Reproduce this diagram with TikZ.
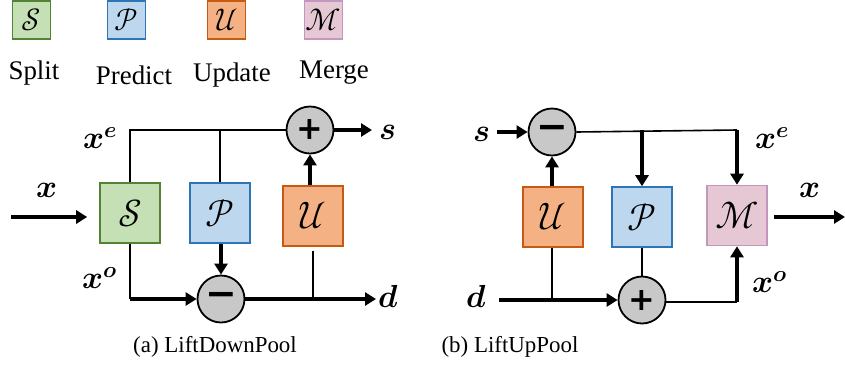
\documentclass[tikz,border=0pt]{standalone}
\usepackage{fontspec}
\usepackage{unicode-math}
\setmathfont{Latin Modern Math}
\setmainfont{Liberation Serif}
\newfontfamily\symfont{DejaVu Sans}
\usetikzlibrary{arrows.meta}
\definecolor{gfill}{HTML}{C5E0B4}\definecolor{gdraw}{HTML}{548235}
\definecolor{bfill}{HTML}{BDD7EE}\definecolor{bdraw}{HTML}{2E75B6}
\definecolor{ofill}{HTML}{F4B183}\definecolor{odraw}{HTML}{C55A11}
\definecolor{mfill}{HTML}{E6C8D4}\definecolor{mdraw}{HTML}{C296BE}
\definecolor{cfill}{HTML}{C8C8C8}
\tikzset{
  blk/.style={draw, line width=1.6bp, minimum width=60bp, minimum height=60bp, inner sep=0pt,
    font=\fontsize{38}{38}\selectfont},
  leg/.style={draw, line width=1.6bp, minimum width=38bp, minimum height=38bp, inner sep=0pt,
    font=\fontsize{31}{31}\selectfont},
  sbox/.style={fill=gfill, draw=gdraw},
  pbox/.style={fill=bfill, draw=bdraw},
  ubox/.style={fill=ofill, draw=odraw},
  mbox/.style={fill=mfill, draw=mdraw},
  opc/.style={circle, draw, fill=cfill, line width=1.8bp, minimum size=47bp, inner sep=0pt},
  plusf/.style={font=\symfont\bfseries\fontsize{32}{32}\selectfont},
  minusf/.style={font=\symfont\bfseries\fontsize{38}{38}\selectfont},
  thinl/.style={line width=1.6bp},
  thickarr/.style={line width=4bp, -{Triangle[length=11bp,width=13bp]}},
  mlab/.style={font=\fontsize{32}{32}\selectfont, inner sep=0pt},
  txt/.style={font=\fontsize{23}{23}\selectfont, inner sep=0pt},
  legtxt/.style={font=\fontsize{27}{27}\selectfont, inner sep=0pt},
}
\begin{document}
\begin{tikzpicture}[x=1bp,y=-1bp]
\useasboundingbox (0,0) rectangle (845,385);
% legend
\node[leg,sbox] (lS) at (31.5,20) {$\mathcal{S}$};
\node[leg,pbox] (lP) at (126.5,20) {$\mathcal{P}$};
\node[leg,ubox] (lU) at (226.5,20) {$\mathcal{U}$};
\node[leg,mbox] (lM) at (323.5,20) {$\mathcal{M}$};
\node[legtxt] (tS) at (34,73) {Split};
\node[legtxt] (tP) at (134,75) {Predict};
\node[legtxt] (tU) at (232,75) {Update};
\node[legtxt] (tM) at (334,73) {Merge};
% ---------- left: LiftDownPool ----------
\node[blk,sbox] (S) at (130,213) {$\mathcal{S}$};
\node[blk,pbox] (P) at (220,213) {$\mathcal{P}$};
\node[blk,ubox] (U) at (313,216) {$\mathcal{U}$};
\node[opc,plusf] (add) at (310,130) {+};
\node[opc,minusf] (sub) at (221,299) {\char"2212};
\coordinate (xin) at (11,217);
\coordinate (sout) at (372,130);
\coordinate (dout) at (376,299);
\node[mlab] (xl) at (47,190) {$\symbfit{x}$};
\node[mlab] (xel) at (100,138) {$\symbfit{x}^{\symbfit{e}}$};
\node[mlab] (xol) at (100,278) {$\symbfit{x}^{\symbfit{o}}$};
\node[mlab] (sl) at (388,132) {$\symbfit{s}$};
\node[mlab] (dl) at (389,297) {$\symbfit{d}$};
\draw[thickarr, shorten >=12bp] (xin) -- (S.west |- xin);
\draw[thinl] (S.north) |- (add.west);
\draw[thinl] (P.north) -- (P.north |- add.west);
\draw[thickarr] (U.north -| add) -- (add.south);
\draw[thickarr] (add.east) -- (sout);
\draw[thinl] (S.south) -- (S.south |- sub.west);
\draw[thickarr] (S.south |- sub.west) -- (sub.west);
\draw[thickarr] (P.south -| sub) -- (sub.north);
\draw[thickarr] (sub.east) -- (dout);
\draw[thinl, shorten <=4bp] (U.south) -- (U.south |- sub.east);
% ---------- right: LiftUpPool ----------
\node[opc,minusf] (sub2) at (552,132) {\char"2212};
\node[blk,ubox] (U2) at (553,217) {$\mathcal{U}$};
\node[blk,pbox] (P2) at (642,217) {$\mathcal{P}$};
\node[blk,mbox] (M2) at (737,215.5) {$\mathcal{M}$};
\node[opc,plusf] (add2) at (642,300) {+};
\coordinate (sin) at (497,132);
\coordinate (din) at (499,300);
\coordinate (xout) at (845,217);
\coordinate (topR) at (737,130);
\coordinate (botR) at (737,302);
\node[mlab] (sl2) at (482,134) {$\symbfit{s}$};
\node[mlab] (dl2) at (477,297) {$\symbfit{d}$};
\node[mlab] (xel2) at (772,138) {$\symbfit{x}^{\symbfit{e}}$};
\node[mlab] (xol2) at (770,282) {$\symbfit{x}^{\symbfit{o}}$};
\node[mlab] (xl2) at (810,190) {$\symbfit{x}$};
\draw[thickarr] (sin) -- (sub2.west);
\draw[thinl] (sub2.east) -- (topR);
\draw[thickarr] (P2.north |- topR) -- (P2.north);
\draw[thickarr] (topR) -- (M2.north);
\draw[thickarr] (U2.north -| sub2) -- (sub2.south);
\draw[thickarr] (din) -- (add2.west);
\draw[thinl] (U2.south -| sub2) -- (sub2 |- add2.west);
\draw[thinl] (P2.south) -- (add2.north);
\draw[thinl] (add2.east |- botR) -- (botR);
\draw[thickarr] (botR) -- (M2.south);
\draw[thickarr, shorten <=6bp] (M2.east |- xout) -- (xout);
% captions
\node[txt] (capa) at (215,347) {(a) LiftDownPool};
\node[txt] (capb) at (510,347) {(b) LiftUpPool};
\end{tikzpicture}
\end{document}
